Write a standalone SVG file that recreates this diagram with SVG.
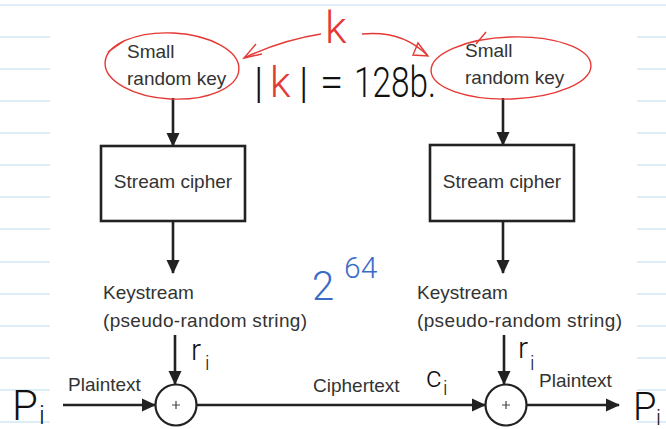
<svg xmlns="http://www.w3.org/2000/svg" width="666" height="429" viewBox="0 0 666 429">
<defs>
<style>
.bg{fill:#ffffff}
.nl{stroke:#d4e9f8;stroke-width:1.6}
.t{font-family:"Liberation Sans",Arial,sans-serif;font-size:19px;fill:#333}
.box{fill:#ffffff;stroke:#222;stroke-width:2.6}
.ln{stroke:#222;stroke-width:2.6;fill:none}
.xor{fill:#fff;stroke:#222;stroke-width:2.2}
.plus{stroke:#444;stroke-width:1.2}
.red{stroke:#e53935;stroke-width:1.4;fill:none}
.hw{font-family:Roboto,"DejaVu Sans",sans-serif;font-weight:300;fill:#111}
.hr{fill:#e53935}
.hb{fill:#3a6cc6}
</style>
<marker id="ah" markerWidth="14" markerHeight="14" refX="13" refY="7" orient="auto" markerUnits="userSpaceOnUse">
<path d="M0,0.5 L14,7 L0,13.5 Z" fill="#222"/>
</marker>
</defs>
<rect class="bg" x="0" y="0" width="666" height="429"/>
<g id="notebook">
<line class="nl" x1="0" y1="5" x2="666" y2="5"/>
<path class="nl" d="M0,37H50M0,69H50M0,101H50M0,133H50M0,165H50M0,197H50M0,229H50M0,262H50M0,294H50M0,326H50M0,358H50M0,390H50M0,422H50"/>
<path class="nl" d="M637,37H666M637,69H666M637,101H666M637,133H666M637,165H666M637,197H666M637,229H666M637,262H666M637,294H666M637,326H666M637,358H666M637,390H666M637,422H666"/>
</g>
<g id="connectors">
<line class="ln" x1="173" y1="98" x2="173" y2="146" marker-end="url(#ah)"/>
<line class="ln" x1="173" y1="221" x2="173" y2="273" marker-end="url(#ah)"/>
<line class="ln" x1="175" y1="335" x2="175" y2="384" marker-end="url(#ah)"/>
<line class="ln" x1="63" y1="405" x2="155" y2="405" marker-end="url(#ah)"/>
<line class="ln" x1="197" y1="405" x2="485" y2="405" marker-end="url(#ah)"/>
<line class="ln" x1="503" y1="98" x2="503" y2="145" marker-end="url(#ah)"/>
<line class="ln" x1="503" y1="221" x2="503" y2="273" marker-end="url(#ah)"/>
<line class="ln" x1="504" y1="335" x2="504" y2="384" marker-end="url(#ah)"/>
<line class="ln" x1="527" y1="405" x2="619" y2="405" marker-end="url(#ah)"/>
</g>
<g id="key-left">
<text class="t" x="127" y="58">Small</text>
<text class="t" x="127" y="85">random key</text>
</g>
<g id="key-right">
<text class="t" x="465" y="57">Small</text>
<text class="t" x="465" y="84">random key</text>
</g>
<g id="cipher-left">
<rect class="box" x="101" y="146" width="144" height="75"/>
<text class="t" x="173" y="188" text-anchor="middle">Stream cipher</text>
</g>
<g id="cipher-right">
<rect class="box" x="430" y="145" width="144" height="76"/>
<text class="t" x="502" y="188" text-anchor="middle">Stream cipher</text>
</g>
<g id="keystream-left">
<text class="t" x="103" y="299">Keystream</text>
<text class="t" x="103" y="327" textLength="204">(pseudo-random string)</text>
</g>
<g id="keystream-right">
<text class="t" x="417" y="299">Keystream</text>
<text class="t" x="417" y="327" textLength="205">(pseudo-random string)</text>
</g>
<g id="xor-left">
<circle class="xor" cx="176" cy="405" r="20.5"/>
<path class="plus" d="M172,405H180M176,401V409"/>
</g>
<g id="xor-right">
<circle class="xor" cx="506" cy="405" r="20.5"/>
<path class="plus" d="M502,405H510M506,401V409"/>
</g>
<g id="labels">
<text class="t" x="68" y="391">Plaintext</text>
<text class="t" x="313" y="392">Ciphertext</text>
<text class="t" x="539" y="387">Plaintext</text>
</g>
<g id="annotations">
<ellipse class="red" cx="172" cy="66" rx="67" ry="33" transform="rotate(3 172 66)"/>
<path class="red" d="M108,52 L124,41"/>
<ellipse class="red" cx="511" cy="68" rx="80" ry="31" transform="rotate(-2 511 68)"/>
<path class="red" d="M476,44 L486,32"/>
<path class="red" d="M321,34 Q282,40 244,58"/>
<path class="red" d="M256,44 L244,58 L262,54"/>
<path class="red" d="M362,34 Q402,30 427,55"/>
<path class="red" d="M418,43 L428,56 L413,55 Z"/>
<text class="hw hr" x="325" y="43" font-size="44">k</text>
<text class="hw" font-size="42" y="97"><tspan x="254">|</tspan><tspan class="hr" x="270">k</tspan><tspan x="299">|</tspan><tspan x="320">=</tspan></text>
<text class="hw" font-size="42" x="354" y="97" textLength="82" lengthAdjust="spacingAndGlyphs">128b.</text>
<text class="hw hb" x="312" y="300" font-size="40">2</text>
<text class="hw hb" x="344" y="278" font-size="30">64</text>
<text class="hw" x="191" y="360" font-size="30">r</text>
<text class="hw" x="205" y="370" font-size="20">i</text>
<text class="hw" x="518" y="358" font-size="30">r</text>
<text class="hw" x="530" y="370" font-size="20">i</text>
<text class="hw" x="426" y="387" font-size="30">c</text>
<text class="hw" x="443" y="395" font-size="20">i</text>
<text class="hw" x="12" y="420" font-size="42">P</text>
<text class="hw" x="39" y="424" font-size="26">i</text>
<text class="hw" x="633" y="420" font-size="38">P</text>
<text class="hw" x="656" y="425" font-size="22">i</text>
</g>
</svg>
